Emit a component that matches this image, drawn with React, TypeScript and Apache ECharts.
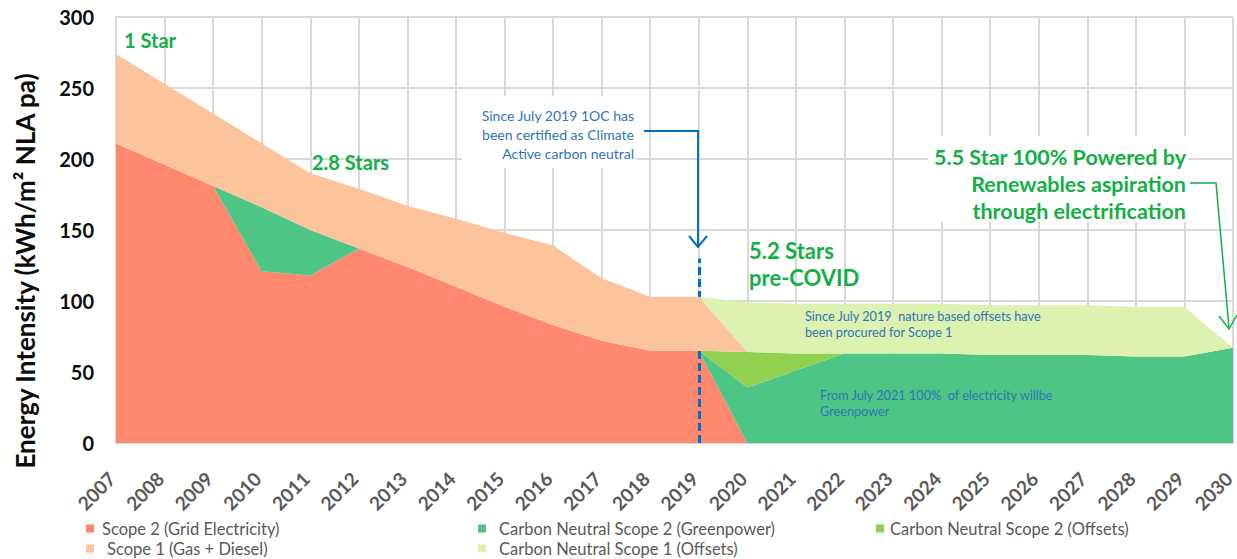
import React, { useEffect, useRef } from "react";
import * as echarts from "echarts";

const years = ["2007","2008","2009","2010","2011","2012","2013","2014","2015","2016","2017","2018","2019","2020","2021","2022","2023","2024","2025","2026","2027","2028","2029","2030"];
const scope2Grid = [211,196,181,121,118,137,124,110,96,83,72,65,65,0,0,0,0,0,0,0,0,0,0,0];
const cnScope2Greenpower = [0,0,0,45,32,0,0,0,0,0,0,0,0,39,51,63,63,63,62,62,62,61,61,67];
const cnScope2Offsets = [0,0,0,0,0,0,0,0,0,0,0,0,0,25,12,0,0,0,0,0,0,0,0,0];
const scope1 = [63,57,51,45,40,42,43,48,52,56,44,38,38,0,0,0,0,0,0,0,0,0,0,0];
const cnScope1Offsets = [0,0,0,0,0,0,0,0,0,0,0,0,0,35,35,35,35,35,35,35,35,35,35,0];
const yTicks = { min: 0, max: 300, interval: 50 };

const seriesDefs = [
  { name: "Scope 2 (Grid Electricity)", data: scope2Grid, color: "#FF886E" },
  { name: "Carbon Neutral Scope 2 (Greenpower)", data: cnScope2Greenpower, color: "#4CC585" },
  { name: "Carbon Neutral Scope 2 (Offsets)", data: cnScope2Offsets, color: "#92D050" },
  { name: "Scope 1 (Gas + Diesel)", data: scope1, color: "#FBC49C" },
  { name: "Carbon Neutral Scope 1 (Offsets)", data: cnScope1Offsets, color: "#DDF1B1" },
];

const FONT = "Lato";
const GREEN = "#13AF45";
const BLUE_TXT = "#2E75B6";
const BLUE_LINE = "#0070C0";

export default function App() {
  const ref = useRef<HTMLDivElement>(null);
  useEffect(() => {
    if (!ref.current) return;
    const chart = echarts.init(ref.current, null, { renderer: "svg" });
    const series: any[] = seriesDefs.map((s, i) => ({
      name: s.name,
      type: "line",
      stack: "total",
      data: s.data,
      color: s.color,
      symbol: "none",
      showSymbol: false,
      lineStyle: { width: 0, color: s.color },
      areaStyle: { color: s.color, opacity: 1 },
      emphasis: { disabled: true },
      silent: true,
      z: 2 + i,
    }));
    series[4].markLine = {
      silent: true,
      symbol: "none",
      label: { show: false },
      lineStyle: { color: BLUE_LINE, width: 3, type: [8, 4] },
      data: [[{ xAxis: "2019", yAxis: 0 }, { xAxis: "2019", yAxis: 130 }]],
    };
    const legendPos = [
      { left: 86, top: 520, pad: [0, 0, 0, 3] },
      { left: 478, top: 520, pad: [0, 0, 0, 8] },
      { left: 876, top: 520, pad: [0, 0, 0, 1] },
      { left: 86, top: 540, pad: [0, 0, 0, 8] },
      { left: 478, top: 540, pad: [0, 0, 0, 8] },
    ];
    const legends = seriesDefs.map((s, i) => ({
      data: [s.name],
      left: legendPos[i].left,
      top: legendPos[i].top,
      padding: 0,
      icon: "rect",
      itemWidth: 8,
      itemHeight: 8,
      selectedMode: false,
      textStyle: { fontSize: 16.5, color: "#595959", fontFamily: FONT, lineHeight: 16, padding: legendPos[i].pad },
    }));
    const txt = (text: string, x: number, y: number, o: any) => ({
      type: "text",
      x,
      y,
      z: 100,
      silent: true,
      style: { text, fontFamily: FONT, verticalAlign: "middle", ...o },
    });
    chart.setOption({
      animation: false,
      backgroundColor: "#ffffff",
      grid: { left: 116, right: 4, top: 17, bottom: 116, containLabel: false, outerBoundsMode: "none" },
      legend: legends,
      xAxis: {
        type: "category",
        data: years,
        boundaryGap: false,
        axisLine: { show: true, lineStyle: { color: "#D9D9D9", width: 2 } },
        axisTick: { show: false },
        axisLabel: { interval: 0, rotate: 45, margin: 28, fontSize: 19, fontWeight: "bold", color: "#595959", fontFamily: FONT, padding: [0, 6, 0, 0] },
        splitLine: { show: true, interval: 0, lineStyle: { color: "#D9D9D9", width: 2 } },
      },
      yAxis: {
        type: "value",
        min: yTicks.min,
        max: yTicks.max,
        interval: yTicks.interval,
        axisLine: { show: true, lineStyle: { color: "#D9D9D9", width: 2 } },
        axisTick: { show: false },
        axisLabel: { fontSize: 20, fontWeight: "bold", color: "#0D0D0D", margin: 22, fontFamily: FONT },
        splitLine: { show: true, lineStyle: { color: "#D9D9D9", width: 2 } },
      },
      series,
      graphic: [
        { type: "rect", z: 99, silent: true, shape: { x: 462, y: 96, width: 174, height: 72 }, style: { fill: "#ffffff" } },
        txt("Since July 2019 1OC has\nbeen certified as Climate\nActive carbon neutral", 634, 134, { align: "right", fontSize: 14, lineHeight: 19, fill: BLUE_TXT }),
        { type: "polyline", z: 100, silent: true, shape: { points: [[644, 131], [698, 131], [698, 247]] }, style: { stroke: BLUE_LINE, lineWidth: 2, fill: "none" } },
        { type: "polyline", z: 100, silent: true, shape: { points: [[689, 236], [698, 247], [707, 236]] }, style: { stroke: BLUE_LINE, lineWidth: 2, fill: "none" } },
        { type: "rect", z: 99, silent: true, shape: { x: 928, y: 136, width: 261, height: 86 }, style: { fill: "#ffffff" } },
        txt("5.5 Star 100% Powered by\nRenewables aspiration\nthrough electrification", 1186, 184, { align: "right", fontSize: 21.5, fontWeight: "bold", lineHeight: 27, fill: GREEN }),
        { type: "polyline", z: 100, silent: true, shape: { points: [[1190, 183], [1216, 183], [1229, 328]] }, style: { stroke: GREEN, lineWidth: 1.5, fill: "none" } },
        { type: "polyline", z: 100, silent: true, shape: { points: [[1219, 316], [1229, 329], [1237, 315]] }, style: { stroke: GREEN, lineWidth: 1.5, fill: "none" } },
        txt("1 Star", 124, 40, { align: "left", fontSize: 20, fontWeight: "bold", fill: GREEN }),
        txt("2.8 Stars", 312, 162, { align: "left", fontSize: 20, fontWeight: "bold", fill: GREEN }),
        txt("5.2 Stars\npre-COVID", 749, 264, { align: "left", fontSize: 22, fontWeight: "bold", lineHeight: 27, fill: GREEN }),
        txt("Since July 2019  nature based offsets have\nbeen procured for Scope 1", 805, 324, { align: "left", fontSize: 12.7, lineHeight: 16, fill: BLUE_TXT }),
        txt("From July 2021 100%  of electricity willbe\nGreenpower", 820, 403, { align: "left", fontSize: 12.7, lineHeight: 16, fill: BLUE_TXT }),
        { type: "text", z: 100, silent: true, x: 25, y: 271, rotation: Math.PI / 2, style: { text: "Energy Intensity (kWh/m² NLA pa)", fontFamily: FONT, fontSize: 26, fontWeight: "bold", fill: "#0D0D0D", align: "center", verticalAlign: "middle" } },
      ],
    });
    return () => chart.dispose();
  }, []);
  return <div ref={ref} style={{ position: "fixed", left: 0, top: 0, width: 1237, height: 559 }} />;
}
